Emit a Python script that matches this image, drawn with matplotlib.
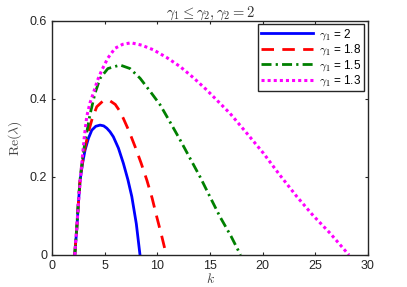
import numpy as np
import matplotlib
matplotlib.use('Agg')
import matplotlib.pyplot as plt

plt.rcParams['font.family'] = ['Liberation Sans', 'DejaVu Sans']
plt.rcParams['mathtext.fontset'] = 'cm'

# curves
k_g20 = [2.15, 2.25, 2.34, 2.5, 2.66, 2.9, 3.13, 3.45, 3.77, 4.15, 4.56, 4.9, 5.2, 5.5, 5.82, 6.3, 6.77, 7.2, 7.57, 8.0, 8.35]
re_g20 = [0, 0.035, 0.064, 0.133, 0.192, 0.236, 0.269, 0.299, 0.32, 0.33, 0.333, 0.331, 0.325, 0.316, 0.303, 0.274, 0.235, 0.193, 0.15, 0.08, 0]

k_g18 = [2.15, 2.25, 2.34, 2.5, 2.66, 2.9, 3.13, 3.45, 3.77, 4.24, 4.8, 5.4, 6.0, 6.4, 6.77, 7.3, 7.88, 8.45, 9.0, 9.5, 9.94, 10.4, 10.85]
re_g18 = [0, 0.036, 0.066, 0.135, 0.195, 0.24, 0.275, 0.315, 0.346, 0.38, 0.394, 0.397, 0.386, 0.37, 0.35, 0.318, 0.278, 0.236, 0.192, 0.146, 0.098, 0.05, 0]

k_g15 = [2.15, 2.25, 2.34, 2.5, 2.7, 2.9, 3.13, 3.6, 4.08, 4.56, 5.3, 6.46, 7.4, 8.36, 9.3, 10.26, 11.2, 12.16, 13.1, 14.06, 15.0, 15.95, 17.0, 17.9]
re_g15 = [0, 0.037, 0.07, 0.14, 0.205, 0.25, 0.29, 0.36, 0.415, 0.453, 0.478, 0.487, 0.478, 0.453, 0.42, 0.385, 0.341, 0.295, 0.248, 0.2, 0.149, 0.098, 0.048, 0]

k_g13 = [2.15, 2.25, 2.34, 2.55, 2.82, 3.05, 3.29, 3.6, 3.92, 4.3, 4.72, 5.3, 5.98, 6.7, 7.5, 8.5, 9.62, 10.9, 12.16, 13.4, 14.69, 16.9, 18.5, 20.07, 21.6, 23.24, 24.8, 26.4, 27.3, 28.2]
re_g13 = [0, 0.038, 0.07, 0.15, 0.235, 0.3, 0.355, 0.39, 0.415, 0.447, 0.474, 0.505, 0.53, 0.54, 0.544, 0.538, 0.526, 0.506, 0.483, 0.455, 0.423, 0.363, 0.312, 0.261, 0.206, 0.15, 0.101, 0.056, 0.028, 0]

fig = plt.figure(figsize=(4.07, 2.87), dpi=100)
ax = fig.add_axes([0.128, 0.1115, 0.776, 0.8155])

ax.plot(k_g20, re_g20, color='blue', lw=2, label=r'$\gamma_1$ = 2')
ax.plot(k_g18, re_g18, color='red', lw=2, dashes=(4.5, 3), label=r'$\gamma_1$ = 1.8')
ax.plot(k_g15, re_g15, color=(0, 0.5, 0), lw=2, dashes=(3.6, 1.5, 0.8, 1.5), label=r'$\gamma_1$ = 1.5')
ax.plot(k_g13, re_g13, color='magenta', lw=2.2, dashes=(1, 1), dash_capstyle='butt', label=r'$\gamma_1$ = 1.3')

ax.set_xlim(0, 30)
ax.set_ylim(0, 0.6)
ax.set_xticks([0, 5, 10, 15, 20, 25, 30])
ax.set_yticks([0, 0.2, 0.4, 0.6])
ax.set_yticklabels(['0', '0.2', '0.4', '0.6'])
ax.tick_params(direction='in', length=2.5, width=0.8, top=True, right=True,
               labelsize=9, colors='#262626', labelcolor='#262626')
for s in ax.spines.values():
    s.set_linewidth(1.0)
    s.set_color('#262626')

ax.set_title(r'$\gamma_1 \leq \gamma_2, \gamma_2 = 2$', fontsize=10.5, color='#333333', pad=3)
ax.set_xlabel(r'$k$', fontsize=10, color='#444444', labelpad=0)
ax.set_ylabel(r'$\mathrm{Re}(\lambda)$', fontsize=10, color='#444444', labelpad=4)

leg = ax.legend(loc='upper right', bbox_to_anchor=(0.987, 0.987), fontsize=8.5,
                handlelength=4.4, handletextpad=0.5, borderpad=0.25, labelspacing=0.05,
                fancybox=False, framealpha=1, edgecolor='#262626', borderaxespad=0)
leg.get_frame().set_linewidth(1.0)

fig.savefig('out.png', dpi=100)
